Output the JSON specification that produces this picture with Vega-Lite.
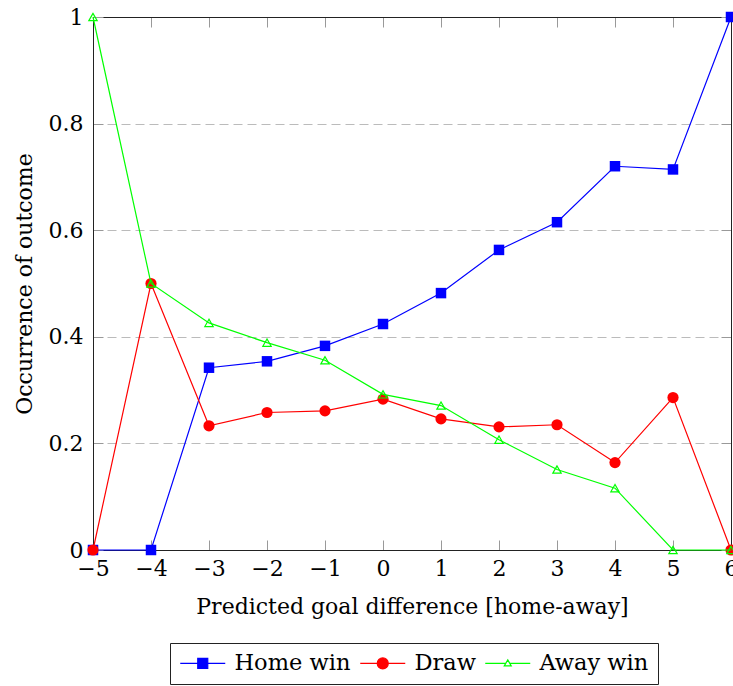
{
  "$schema": "https://vega.github.io/schema/vega-lite/v6.json",
  "width": 638,
  "height": 533,
  "autosize": "none",
  "padding": {"left": 93, "top": 17, "right": 2, "bottom": 136},
  "background": "white",
  "config": {
    "font": "DejaVu Serif",
    "view": {"stroke": null},
    "axis": {
      "labelFont": "DejaVu Serif",
      "titleFont": "DejaVu Serif",
      "labelFontSize": 22,
      "titleFontSize": 22,
      "titleFontWeight": "normal",
      "labelColor": "black",
      "titleColor": "black",
      "domainColor": "#222222",
      "domainWidth": 1,
      "tickColor": "#999999",
      "tickWidth": 1,
      "tickSize": -10
    }
  },
  "data": {
    "values": [
      {"x": -5, "series": "Home win", "v": 0},
      {"x": -4, "series": "Home win", "v": 0},
      {"x": -3, "series": "Home win", "v": 0.342},
      {"x": -2, "series": "Home win", "v": 0.354},
      {"x": -1, "series": "Home win", "v": 0.383},
      {"x": 0, "series": "Home win", "v": 0.424},
      {"x": 1, "series": "Home win", "v": 0.482},
      {"x": 2, "series": "Home win", "v": 0.563},
      {"x": 3, "series": "Home win", "v": 0.615},
      {"x": 4, "series": "Home win", "v": 0.72},
      {"x": 5, "series": "Home win", "v": 0.714},
      {"x": 6, "series": "Home win", "v": 1},
      {"x": -5, "series": "Draw", "v": 0},
      {"x": -4, "series": "Draw", "v": 0.5},
      {"x": -3, "series": "Draw", "v": 0.233},
      {"x": -2, "series": "Draw", "v": 0.258},
      {"x": -1, "series": "Draw", "v": 0.261},
      {"x": 0, "series": "Draw", "v": 0.283},
      {"x": 1, "series": "Draw", "v": 0.246},
      {"x": 2, "series": "Draw", "v": 0.231},
      {"x": 3, "series": "Draw", "v": 0.235},
      {"x": 4, "series": "Draw", "v": 0.164},
      {"x": 5, "series": "Draw", "v": 0.286},
      {"x": 6, "series": "Draw", "v": 0},
      {"x": -5, "series": "Away win", "v": 1},
      {"x": -4, "series": "Away win", "v": 0.5},
      {"x": -3, "series": "Away win", "v": 0.426},
      {"x": -2, "series": "Away win", "v": 0.389},
      {"x": -1, "series": "Away win", "v": 0.356},
      {"x": 0, "series": "Away win", "v": 0.292},
      {"x": 1, "series": "Away win", "v": 0.271},
      {"x": 2, "series": "Away win", "v": 0.207},
      {"x": 3, "series": "Away win", "v": 0.151},
      {"x": 4, "series": "Away win", "v": 0.116},
      {"x": 5, "series": "Away win", "v": 0},
      {"x": 6, "series": "Away win", "v": 0}
    ]
  },
  "layer": [
    {
      "transform": [{"filter": "datum.series === 'Home win'"}],
      "mark": {"type": "line", "strokeWidth": 1.2, "color": "#0000ff"},
      "encoding": {
        "x": {
          "field": "x", "type": "quantitative",
          "scale": {"domain": [-5, 6], "nice": false, "zero": false},
          "axis": {
            "orient": "bottom",
            "values": [-5, -4, -3, -2, -1, 0, 1, 2, 3, 4, 5, 6],
            "title": "Predicted goal difference [home-away]",
            "labelPadding": 18,
            "titlePadding": 17,
            "grid": false,
            "labelFlush": false,
            "labelOverlap": false
          }
        },
        "y": {
          "field": "v", "type": "quantitative",
          "scale": {"domain": [0, 1], "nice": false},
          "axis": {
            "orient": "left",
            "values": [0, 0.2, 0.4, 0.6, 0.8, 1],
            "format": "~g",
            "title": "Occurrence of outcome",
            "labelPadding": 20,
            "titlePadding": 12,
            "grid": true,
            "gridColor": "#bbbbbb",
            "gridDash": [9, 5],
            "gridWidth": 1,
            "labelFlush": false,
            "labelOverlap": false
          }
        },
        "order": {"field": "x", "type": "quantitative"}
      }
    },
    {
      "transform": [{"filter": "datum.series === 'Home win'"}],
      "mark": {"type": "point", "shape": "square", "filled": true, "color": "#0000ff", "size": 110, "opacity": 1},
      "encoding": {
        "x": {"field": "x", "type": "quantitative", "axis": null},
        "y": {"field": "v", "type": "quantitative", "axis": null}
      }
    },
    {
      "transform": [{"filter": "datum.series === 'Draw'"}],
      "mark": {"type": "line", "strokeWidth": 1.2, "color": "#ff0000"},
      "encoding": {
        "x": {"field": "x", "type": "quantitative", "axis": null},
        "y": {"field": "v", "type": "quantitative", "axis": null},
        "order": {"field": "x", "type": "quantitative"}
      }
    },
    {
      "transform": [{"filter": "datum.series === 'Draw'"}],
      "mark": {"type": "point", "shape": "circle", "filled": true, "color": "#ff0000", "size": 125, "opacity": 1},
      "encoding": {
        "x": {"field": "x", "type": "quantitative", "axis": null},
        "y": {"field": "v", "type": "quantitative", "axis": null}
      }
    },
    {
      "transform": [{"filter": "datum.series === 'Away win'"}],
      "mark": {"type": "line", "strokeWidth": 1.2, "color": "#00ff00"},
      "encoding": {
        "x": {"field": "x", "type": "quantitative", "axis": null},
        "y": {"field": "v", "type": "quantitative", "axis": null},
        "order": {"field": "x", "type": "quantitative"}
      }
    },
    {
      "transform": [{"filter": "datum.series === 'Away win'"}],
      "mark": {"type": "point", "shape": "triangle-up", "filled": false, "color": "#00ff00", "size": 70, "strokeWidth": 1.2, "opacity": 1},
      "encoding": {
        "x": {"field": "x", "type": "quantitative", "axis": null},
        "y": {"field": "v", "type": "quantitative", "axis": null}
      }
    },
    {
      "mark": {"type": "point", "filled": true, "opacity": 0, "strokeWidth": 1.2},
      "encoding": {
        "x": {
          "field": "x", "type": "quantitative",
          "axis": {"orient": "top", "values": [-5, -4, -3, -2, -1, 0, 1, 2, 3, 4, 5, 6], "labels": false, "title": null, "grid": false}
        },
        "y": {
          "field": "v", "type": "quantitative",
          "axis": {"orient": "right", "values": [0, 0.2, 0.4, 0.6, 0.8, 1], "labels": false, "title": null, "grid": false}
        },
        "shape": {
          "field": "series", "type": "nominal",
          "scale": {
            "domain": ["Home win", "Draw", "Away win"],
            "range": [
              "M-1,0H3.5M0.75,-0.5H1.75V0.5H0.75Z",
              "M-1,0H3.5M1.8,0A0.55,0.55 0 1,1 0.7,0A0.55,0.55 0 1,1 1.8,0Z",
              "M-1,0H1.05M1.45,0H3.5M1.25,-0.35L1.6,0.25H0.9Z"
            ]
          },
          "legend": {
            "orient": "none",
            "legendX": 77,
            "legendY": 626,
            "direction": "horizontal",
            "title": null,
            "strokeColor": "#222222",
            "padding": 9,
            "symbolSize": 400,
            "symbolStrokeWidth": 1.2,
            "symbolOpacity": 1,
            "labelFont": "DejaVu Serif",
            "labelFontSize": 22.5,
            "labelColor": "black",
            "labelOffset": 33,
            "columnPadding": 6,
            "labelLimit": 300
          }
        },
        "stroke": {
          "field": "series", "type": "nominal",
          "scale": {"domain": ["Home win", "Draw", "Away win"], "range": ["#0000ff", "#ff0000", "#00ff00"]}
        },
        "fill": {
          "field": "series", "type": "nominal",
          "scale": {"domain": ["Home win", "Draw", "Away win"], "range": ["#0000ff", "#ff0000", "#ffffff"]}
        }
      }
    }
  ],
  "resolve": {"axis": {"x": "independent", "y": "independent"}}
}
